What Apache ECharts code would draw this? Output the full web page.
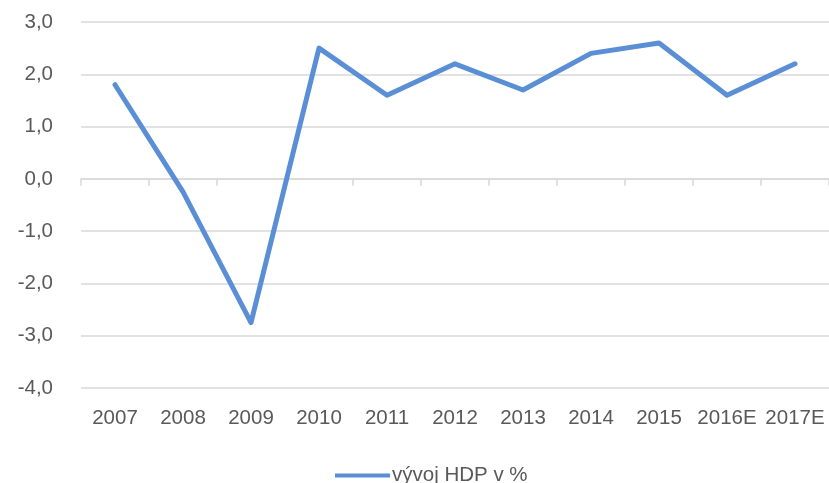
<!DOCTYPE html>
<html>
<head>
<meta charset="utf-8">
<script src="https://cdn.jsdelivr.net/npm/echarts@6/dist/echarts.min.js"></script>
<style>html,body{margin:0;padding:0;background:#fff}#c{width:829px;height:483px}</style>
</head>
<body>
<div id="c"></div>
<script>
const categories = ['2007','2008','2009','2010','2011','2012','2013','2014','2015','2016E','2017E'];
const hdpValues = [1.8, -0.25, -2.75, 2.5, 1.6, 2.2, 1.7, 2.4, 2.6, 1.6, 2.2];
const seriesName = 'vývoj HDP v %';

const FONT = 'Liberation Sans';
const TXT = '#595959';
const GRID = '#d9d9d9';

const chart = echarts.init(document.getElementById('c'), null, {renderer: 'canvas'});
chart.setOption({
  animation: false,
  backgroundColor: '#fff',
  grid: {left: 81, right: -2, top: 22, bottom: 95, containLabel: false},
  legend: {
    data: [seriesName],
    left: 330, top: 460,
    icon: 'rect', itemWidth: 55, itemHeight: 4, itemGap: 10,
    textStyle: {fontFamily: FONT, fontSize: 20.5, color: TXT, padding: [0, 0, 0, -3]}
  },
  xAxis: [
    {
      type: 'category', data: categories, position: 'bottom', boundaryGap: true,
      axisLine: {show: false, onZero: false}, axisTick: {show: false},
      axisLabel: {fontFamily: FONT, fontSize: 20.5, color: TXT, margin: 20, interval: 0},
      splitLine: {show: false}
    },
    {
      type: 'category', data: categories, position: 'bottom', boundaryGap: true,
      axisLine: {show: true, onZero: true, lineStyle: {color: GRID, width: 1.5}},
      axisTick: {show: true, length: 7, alignWithLabel: false, interval: 0, lineStyle: {color: GRID, width: 1.5}},
      axisLabel: {show: false}, splitLine: {show: false}
    }
  ],
  yAxis: {
    type: 'value', min: -4, max: 3, interval: 1,
    axisLine: {show: false}, axisTick: {show: false},
    axisLabel: {fontFamily: FONT, fontSize: 20.5, color: TXT, margin: 28,
      formatter: v => v.toFixed(1).replace('.', ',')},
    splitLine: {lineStyle: {color: GRID, width: 1.5}}
  },
  series: [{
    name: seriesName, type: 'line', data: hdpValues, xAxisIndex: 0,
    showSymbol: false, symbol: 'none',
    lineStyle: {color: '#5a8fd6', width: 5, cap: 'round', join: 'round'},
    itemStyle: {color: '#5a8fd6'}
  }]
});
</script>
</body>
</html>
